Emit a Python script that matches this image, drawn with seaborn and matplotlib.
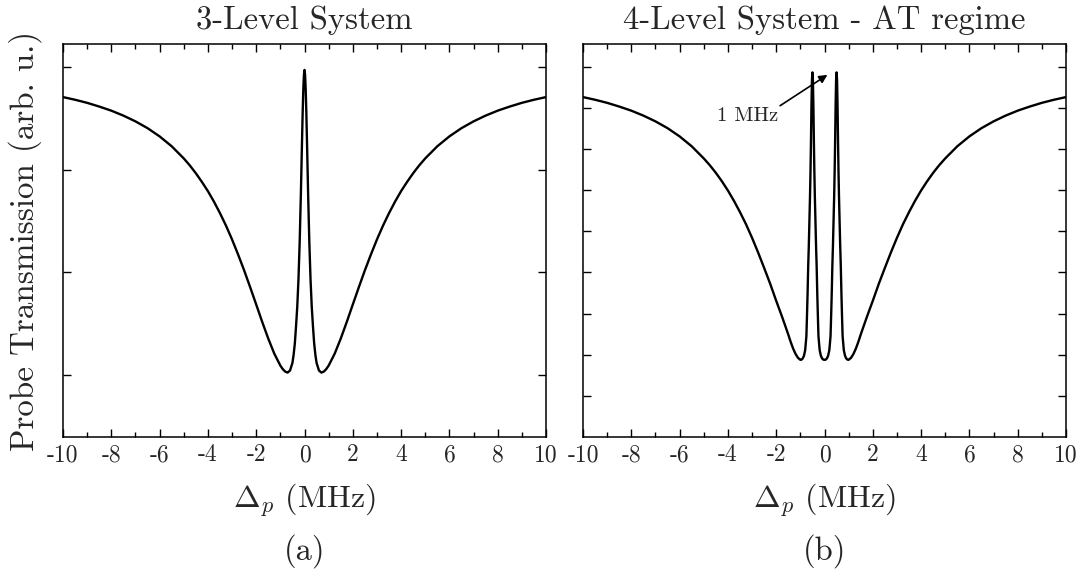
import matplotlib
matplotlib.use("Agg")
import matplotlib.pyplot as plt
from matplotlib.ticker import MultipleLocator
import seaborn as sns
import pandas as pd

# Probe detuning (MHz) and transmission (arb. u.) for the 3-level system
det_3lvl = [-10, -9.5, -9, -8.5, -8, -7.5, -7, -6.5, -6, -5.5, -5, -4.75, -4.5, -4.25,
            -4, -3.75, -3.5, -3.25, -3, -2.75, -2.5, -2.25, -2, -1.75, -1.5, -1.25,
            -1, -0.9, -0.8, -0.7, -0.6, -0.5, -0.45, -0.4, -0.35, -0.3, -0.25, -0.2,
            -0.15, -0.1, -0.075, -0.05, -0.025, 0,
            0.025, 0.05, 0.075, 0.1, 0.15, 0.2, 0.25, 0.3, 0.35, 0.4, 0.45, 0.5,
            0.6, 0.7, 0.8, 0.9, 1, 1.25, 1.5, 1.75, 2, 2.25, 2.5, 2.75, 3, 3.25,
            3.5, 3.75, 4, 4.25, 4.5, 4.75, 5, 5.5, 6, 6.5, 7, 7.5, 8, 8.5, 9, 9.5, 10]
trans_3lvl = [1.852, 1.839, 1.824, 1.806, 1.786, 1.762, 1.734, 1.701, 1.661, 1.613,
              1.554, 1.520, 1.482, 1.440, 1.395, 1.344, 1.288, 1.227, 1.160, 1.087,
              1.010, 0.928, 0.844, 0.759, 0.678, 0.605, 0.547, 0.530, 0.518, 0.513,
              0.523, 0.560, 0.600, 0.655, 0.739, 0.833, 0.965, 1.146, 1.382, 1.652,
              1.781, 1.887, 1.958, 1.984,
              1.958, 1.887, 1.781, 1.652, 1.382, 1.146, 0.965, 0.833, 0.739, 0.655,
              0.600, 0.560, 0.523, 0.513, 0.518, 0.530, 0.547, 0.605, 0.678, 0.759,
              0.844, 0.928, 1.010, 1.087, 1.160, 1.227, 1.288, 1.344, 1.395, 1.440,
              1.482, 1.520, 1.554, 1.613, 1.661, 1.701, 1.734, 1.762, 1.786, 1.806,
              1.824, 1.839, 1.852]

# Probe detuning (MHz) and transmission (arb. u.) for the 4-level system, AT regime
det_4lvl = [-10, -9.5, -9, -8.5, -8, -7.5, -7, -6.5, -6, -5.5, -5, -4.75, -4.5, -4.25,
            -4, -3.75, -3.5, -3.25, -3, -2.75, -2.5, -2.25, -2, -1.75, -1.5, -1.4,
            -1.3, -1.2, -1.1, -1.0, -0.95, -0.9, -0.85, -0.8, -0.75, -0.725, -0.7,
            -0.675, -0.65, -0.625, -0.6, -0.58, -0.56, -0.54, -0.52, -0.5, -0.48,
            -0.46, -0.44, -0.42, -0.4, -0.375, -0.35, -0.325, -0.3, -0.275, -0.25,
            -0.2, -0.15, -0.1, -0.05, 0,
            0.05, 0.1, 0.15, 0.2, 0.25, 0.275, 0.3, 0.325, 0.35, 0.375, 0.4, 0.42,
            0.44, 0.46, 0.48, 0.5, 0.52, 0.54, 0.56, 0.58, 0.6, 0.625, 0.65, 0.675,
            0.7, 0.725, 0.75, 0.8, 0.85, 0.9, 0.95, 1.0, 1.1, 1.2, 1.3, 1.4, 1.5,
            1.75, 2, 2.25, 2.5, 2.75, 3, 3.25, 3.5, 3.75, 4, 4.25, 4.5, 4.75, 5, 5.5,
            6, 6.5, 7, 7.5, 8, 8.5, 9, 9.5, 10]
trans_4lvl = [1.852, 1.839, 1.824, 1.806, 1.786, 1.762, 1.734, 1.701, 1.661, 1.613,
              1.554, 1.521, 1.484, 1.443, 1.398, 1.348, 1.293, 1.234, 1.168, 1.097,
              1.022, 0.945, 0.862, 0.782, 0.698, 0.662, 0.630, 0.604, 0.585, 0.575,
              0.576, 0.582, 0.595, 0.622, 0.690, 0.790, 0.900, 1.030, 1.130, 1.250,
              1.370, 1.490, 1.640, 1.810, 1.935, 1.972, 1.935, 1.810, 1.640, 1.490,
              1.370, 1.250, 1.130, 1.030, 0.900, 0.790, 0.690, 0.622, 0.595, 0.582,
              0.576, 0.575,
              0.576, 0.582, 0.595, 0.622, 0.690, 0.790, 0.900, 1.030, 1.130, 1.250,
              1.370, 1.490, 1.640, 1.810, 1.935, 1.972, 1.935, 1.810, 1.640, 1.490,
              1.370, 1.250, 1.130, 1.030, 0.900, 0.790, 0.690, 0.622, 0.595, 0.582,
              0.576, 0.575, 0.585, 0.604, 0.630, 0.662, 0.698, 0.782, 0.862, 0.945,
              1.022, 1.097, 1.168, 1.234, 1.293, 1.348, 1.398, 1.443, 1.484, 1.521,
              1.554, 1.613, 1.661, 1.701, 1.734, 1.762, 1.786, 1.806, 1.824, 1.839,
              1.852]

titles = ["3-Level System", "4-Level System - AT regime"]
panel_tags = ["(a)", "(b)"]
yticks_3lvl = [0.5, 1.0, 1.5, 2.0]
yticks_4lvl = [0.4, 0.6, 0.8, 1.0, 1.2, 1.4, 1.6, 1.8, 2.0]
x_range = (-10, 10)
y_range = (0.2, 2.11)
splitting_label = "1 MHz"

sns.set_theme(style="ticks")
plt.rcParams["font.family"] = ["cmr10", "DejaVu Serif"]
plt.rcParams["mathtext.fontset"] = "cm"
plt.rcParams["axes.unicode_minus"] = False
plt.rcParams["axes.formatter.use_mathtext"] = False

fig = plt.figure(figsize=(10.89, 5.79), dpi=100)
W, H = 1089, 579
ax_a = fig.add_axes([63 / W, 1 - 437 / H, 483 / W, 393 / H])
ax_b = fig.add_axes([583 / W, 1 - 437 / H, 483 / W, 393 / H])

frames = [
    pd.DataFrame({"det": det_3lvl, "trans": trans_3lvl}),
    pd.DataFrame({"det": det_4lvl, "trans": trans_4lvl}),
]

for ax, df, title, tag, yt in zip([ax_a, ax_b], frames, titles, panel_tags,
                                  [yticks_3lvl, yticks_4lvl]):
    sns.lineplot(data=df, x="det", y="trans", ax=ax, color="black", lw=1.7,
                 sort=False, estimator=None)
    ax.set_xlim(*x_range)
    ax.set_ylim(*y_range)
    ax.xaxis.set_major_locator(MultipleLocator(2))
    ax.xaxis.set_minor_locator(MultipleLocator(1))
    ax.set_yticks(yt)
    ax.tick_params(which="both", direction="in", top=True, right=True,
                   labelleft=False, width=1.0, color="black")
    ax.tick_params(which="major", length=6, labelsize=17, pad=5)
    ax.tick_params(which="minor", length=3.5)
    for s in ax.spines.values():
        s.set_linewidth(1.1)
        s.set_color("black")
    ax.set_title(title, fontsize=23.5, pad=11)
    ax.set_xlabel(r"$\Delta_p$ (MHz)", fontsize=23)
    ax.xaxis.set_label_coords(0.5, -0.113)
    ax.set_ylabel("")
    ax.text(0.5, -0.29, tag, transform=ax.transAxes, ha="center", va="center",
            fontsize=23.5)

ax_a.set_ylabel("Probe Transmission (arb. u.)", fontsize=23.8)
ax_a.yaxis.set_label_coords(-0.043, 0.5)

# Annotation of the 1 MHz splitting between the two transparency peaks
ax_b.annotate("", xy=(0.12, 1.96), xytext=(-1.84, 1.81),
              arrowprops=dict(arrowstyle="-|>", color="black", lw=1.2,
                              mutation_scale=12, shrinkA=0, shrinkB=0))
ax_b.text(-1.93, 1.76, splitting_label, ha="right", va="center", fontsize=15)

fig.savefig("out.png", dpi=100)
